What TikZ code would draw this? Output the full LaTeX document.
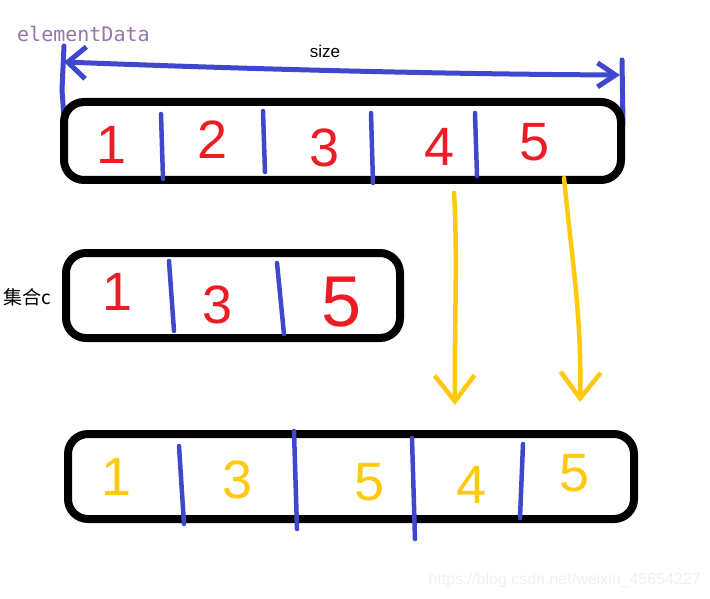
\documentclass[tikz,border=0pt]{standalone}
\usepackage{fontspec}
\setmainfont{Liberation Sans}
\newfontfamily\cjkfont{Noto Sans CJK SC}
\newfontfamily\monofont{DejaVu Sans Mono}
\usetikzlibrary{arrows.meta}
\definecolor{pblue}{HTML}{3F48CC}
\definecolor{pred}{HTML}{ED1C24}
\definecolor{pyel}{HTML}{FFC90E}
\definecolor{ppur}{HTML}{9876AA}
\tikzset{
  box/.style={draw=black, line width=8pt, rounded corners=20pt},
  div/.style={draw=pblue, line width=4.5pt, line cap=round},
  dig/.style={inner sep=0pt, font=\fontsize{54}{60}\selectfont},
  rdig/.style={dig, text=pred},
  ydig/.style={dig, text=pyel},
  yarr/.style={draw=pyel, line width=4.5pt, line cap=round, -{Straight Barb[length=26pt,width=40pt,line width=4.5pt]}},
  barr/.style={draw=pblue, line width=5pt, line cap=round, {Straight Barb[length=18pt,width=32pt,line width=5pt]}-{Straight Barb[length=18pt,width=24pt,line width=5pt]}},
}
\begin{document}
\begin{tikzpicture}[x=1pt,y=-1pt]
\useasboundingbox (0,0) rectangle (710,599);
\fill[white] (0,0) rectangle (710,599);

% labels
\node[anchor=west, inner sep=0pt, text=ppur, font=\monofont\fontsize{20}{24}\selectfont] (ed) at (17,34) {elementData};
\node[inner sep=0pt, font=\fontsize{17}{20}\selectfont] (size) at (325,51) {size};
\node[anchor=west, inner sep=0pt, font=\cjkfont\fontsize{19}{22}\selectfont] (setc) at (3,297) {集合c};
\node[anchor=east, inner sep=0pt, text=black!6, font=\fontsize{16}{18}\selectfont] (wm) at (701,580) {https://blog.csdn.net/weixin\_45654227};

% size arrow
\coordinate (sl) at (64,62);
\coordinate (sr) at (620,75);
\draw[barr] (sl) .. controls (220,68) and (420,74) .. (sr);
\draw[div, line width=5pt] (64,46) -- (62,90) -- (64,118);
\draw[div, line width=5pt] (622,60) -- (623,124);

% boxes
\draw[box] (64,102) rectangle (621,180);
\draw[box] (66,253) rectangle (400,338);
\draw[box] (68,434) rectangle (634,519);

% top box
\node[rdig] (t1) at (112,145) {1};
\node[rdig] (t2) at (213,140) {2};
\node[rdig] (t3) at (325,148) {3};
\node[rdig] (t4) at (440,147) {4};
\node[rdig] (t5) at (535,142) {5};
\draw[div] (161,114) -- (163,179);
\draw[div] (263,111) -- (265,172);
\draw[div] (371,113) -- (373,183);
\draw[div] (475,113) -- (477,176);

% middle box
\node[rdig] (m1) at (118,292) {1};
\node[rdig] (m3) at (218,305) {3};
\node[rdig, font=\fontsize{72}{80}\selectfont] (m5) at (342,302) {5};
\draw[div] (169,261) -- (174,331);
\draw[div] (277,263) -- (284,334);

% bottom box
\node[ydig] (b1) at (117,477) {1};
\node[ydig] (b3) at (238,480) {3};
\node[ydig] (b5a) at (370,482) {5};
\node[ydig] (b4) at (472,485) {4};
\node[ydig] (b5b) at (575,473) {5};
\draw[div] (179,446) -- (184,524);
\draw[div] (294,431) -- (297,529);
\draw[div] (412,438) -- (415,539);
\draw[div] (523,444) -- (520,518);

% yellow arrows
\coordinate (a1s) at (454,193);
\coordinate (a1e) at (455,405);
\coordinate (a2s) at (564,178);
\coordinate (a2e) at (580,402);
\draw[yarr] (a1s) .. controls (458,260) and (454,330) .. (a1e);
\draw[yarr] (a2s) .. controls (572,260) and (582,320) .. (a2e);
\end{tikzpicture}
\end{document}
